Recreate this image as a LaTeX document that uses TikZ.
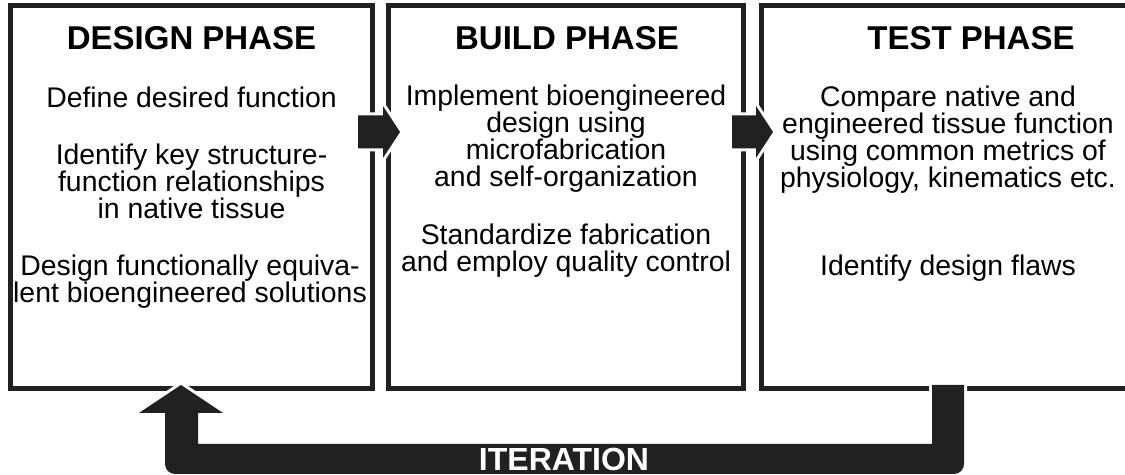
\documentclass[tikz,border=0pt]{standalone}
\usepackage{fontspec}
\setmainfont{Liberation Sans}
\usetikzlibrary{shapes, arrows, positioning}
\definecolor{ink}{rgb}{0.13, 0.13, 0.13}
\newcommand{\phasefont}{\fontsize{14.2}{13.5}\selectfont\lineskiplimit=-20pt\relax}

\tikzset{
    phase/.style={draw=ink, line width=2.5pt, inner sep=0pt, minimum height=191.5pt},
    phasetitle/.style={font=\fontsize{16.5}{18}\selectfont\bfseries, inner sep=0pt},
    phasetext/.style={align=center, font=\phasefont, inner sep=0pt},
    blockarrow/.style={fill=ink, preaction={draw=white, line width=3pt, line join=round}}
}

\begin{document}
\begin{tikzpicture}[x=0.5pt, y=-0.5pt]
    \useasboundingbox (0,0) rectangle (1125,475);
    % the three boxes
    \node[phase, minimum width=181pt] (design) at (191.5,197) {};
    \node[phase, minimum width=177.5pt] (build) at (566,197) {};
    \node[phase, minimum width=186.75pt] (test) at (948.25,197) {};
    % arrows between the phases
    \coordinate (a1) at (358,132);
    \coordinate (a2) at (732,132);
    \fill[blockarrow] (a1) ++(0,-16.5) -- ++(25,0) -- ++(0,-9.5) -- ++(17,26) -- ++(-17,26) -- ++(0,-9.5) -- ++(-25,0) -- cycle;
    \fill[blockarrow] (a2) ++(0,-16.5) -- ++(24,0) -- ++(0,-9.5) -- ++(17,26) -- ++(-17,26) -- ++(0,-9.5) -- ++(-24,0) -- cycle;
    % loop back from test to design
    \fill[blockarrow] (932,385) -- (932,444) -- (198,444) -- (198,413) -- (223,413) -- (181,385) -- (139,413) -- (165,413)
        [rounded corners=5pt] -- (165,474) -- (964,474) [sharp corners] -- (964,385) -- cycle;
    \node[font=\fontsize{16}{18}\selectfont\bfseries, text=white, inner sep=0pt] (iter) at (564,459) {ITERATION};
    % design
    \node[phasetitle] (designhead) at (191.5,38) {DESIGN PHASE};
    \node[phasetext] (d1) at (191.5,97) {Define desired function};
    \node[phasetext] (d2) at (191.5,181) {Identify key structure-\\function relationships\\in native tissue};
    \node[phasetext] (d3) at (190,282) {Design functionally equiva-\\lent bioengineered solutions};
    % build
    \node[phasetitle] (buildhead) at (567,38) {BUILD PHASE};
    \node[phasetext] (b1) at (566,139) {Implement bioengineered\\design using\\microfabrication\\and self-organization};
    \node[phasetext] (b2) at (566,251) {Standardize fabrication\\and employ quality control};
    % test
    \node[phasetitle] (testhead) at (971,38) {TEST PHASE};
    \node[phasetext] (t1) at (948,139.5) {Compare native and\\engineered tissue function\\using common metrics of\\physiology, kinematics etc.};
    \node[phasetext] (t2) at (948,268) {Identify design flaws};
\end{tikzpicture}
\end{document}
